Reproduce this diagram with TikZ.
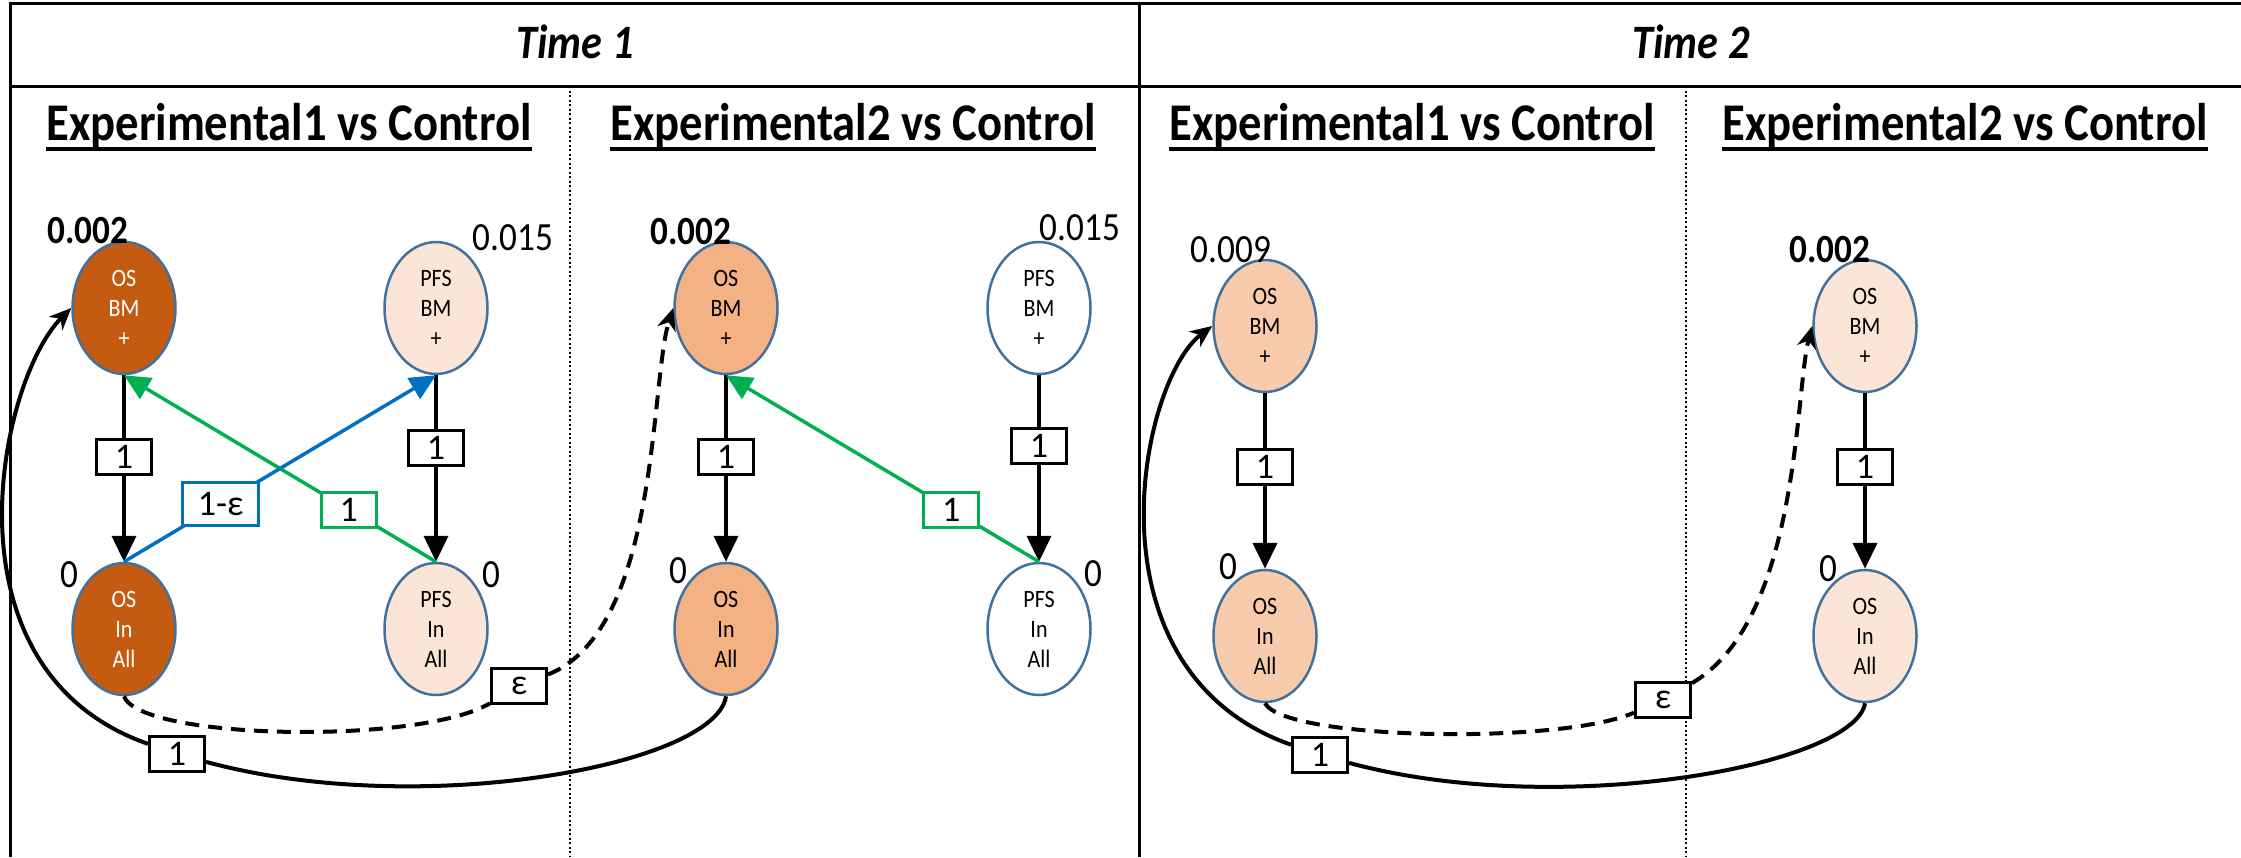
\documentclass[tikz,border=0pt]{standalone}
\usepackage{fontspec}
\setmainfont{Carlito}
\newfontfamily\narrowfont{Carlito}[FakeStretch=0.88]
\usetikzlibrary{shapes.geometric,arrows.meta}

\definecolor{rim}{HTML}{41719C}
\definecolor{osdark}{HTML}{C55A11}
\definecolor{osmid}{HTML}{F4B183}
\definecolor{oslight}{HTML}{F8CBAD}
\definecolor{ospale}{HTML}{FBE5D6}
\definecolor{blu}{HTML}{0070C0}
\definecolor{grn}{HTML}{00B050}

\tikzset{
  ell/.style={ellipse,draw=rim,line width=2.5pt,minimum width=103pt,minimum height=132pt,
    inner sep=0pt,align=center,font=\narrowfont\fontsize{25}{30}\selectfont},
  lab/.style={draw,line width=3pt,fill=white,minimum width=55pt,minimum height=35pt,
    inner sep=0pt,font=\fontsize{36}{42}\selectfont},
  num/.style={inner sep=0pt,font=\narrowfont\fontsize{40}{46}\selectfont},
  numb/.style={inner sep=0pt,font=\narrowfont\fontsize{40}{46}\selectfont\bfseries},
  hdr/.style={inner sep=0pt,anchor=base,font=\narrowfont\fontsize{53}{60}\selectfont\bfseries},
  blk/.style={line width=4pt,-{Triangle[length=26pt,width=24pt]}},
  colarr/.style={line width=3.5pt,draw=#1,-{Triangle[length=26pt,width=24pt]}},
  curv/.style={line width=4pt,-{Stealth[length=22pt,width=19pt,inset=7pt]}},
  sep/.style={line width=2pt,dash pattern=on 2pt off 2.5pt}
}

\begin{document}
\begin{tikzpicture}[x=1pt,y=-1pt]
    \useasboundingbox (0,0) rectangle (2241,857);
    % table
    \draw[line width=3pt] (10,857) -- (10,3) -- (2245,3);
    \draw[line width=3pt] (10,86) -- (2245,86);
    \draw[line width=3pt] (1139,3) -- (1139,857);
    \draw[sep] (570,86) -- (570,857);
    \draw[sep] (1686,86) -- (1686,857);
    \node[hdr,font=\narrowfont\fontsize{48}{56}\selectfont\bfseries] (time1) at (575,58) {\itshape Time 1};
    \node[hdr,font=\narrowfont\fontsize{48}{56}\selectfont\bfseries] (time2) at (1691,58) {\itshape Time 2};
    \foreach \x/\n/\k in {289/A/1,853/B/2,1412/C/1,1965/D/2} {
        \node[hdr] (ttl\n) at (\x,140) {Experimental\k\ vs Control};
        \draw[line width=3.5pt] ([yshift=-9pt]ttl\n.base west) -- ([yshift=-9pt]ttl\n.base east);
    }

    % time 1, experimental1
    \node[ell,fill=osdark,text=white] (osbmA) at (124,308) {OS\\BM\\+};
    \node[ell,fill=ospale] (pfsbmA) at (436,308) {PFS\\BM\\+};
    \node[ell,fill=osdark,text=white] (osinA) at (124,629) {OS\\In\\All};
    \node[ell,fill=ospale] (pfsinA) at (436,629) {PFS\\In\\All};
    \node[numb] at (88,231) {0.002};
    \node[num] at (513,238) {0.015};
    \node[num] at (69,575) {0};
    \node[num] at (491,575) {0};
    \draw[blk] (osbmA) -- node[lab,pos=0.44]{1} (osinA);
    \draw[blk] (pfsbmA) -- node[lab,pos=0.39]{1} (pfsinA);
    \draw[colarr=grn] (pfsinA.north) -- node[lab,draw=grn,pos=0.28]{1} (osbmA.south);
    \draw[colarr=blu] (osinA.north) -- node[lab,draw=blu,minimum width=76pt,minimum height=43pt,pos=0.31]{1-ε} (pfsbmA.south);

    % time 1, experimental2
    \node[ell,fill=osmid] (osbmB) at (726,308) {OS\\BM\\+};
    \node[ell,fill=white] (pfsbmB) at (1039,308) {PFS\\BM\\+};
    \node[ell,fill=osmid] (osinB) at (726,629) {OS\\In\\All};
    \node[ell,fill=white] (pfsinB) at (1039,629) {PFS\\In\\All};
    \node[numb] at (691,232) {0.002};
    \node[num] at (1080,228) {0.015};
    \node[num] at (678,571) {0};
    \node[num] at (1093,574) {0};
    \draw[blk] (osbmB) -- node[lab,pos=0.44]{1} (osinB);
    \draw[blk] (pfsbmB) -- node[lab,pos=0.38]{1} (pfsinB);
    \draw[colarr=grn] (pfsinB.north) -- node[lab,draw=grn,pos=0.28]{1} (osbmB.south);

    \node[lab] (epsA) at (519,686) {ε};
    \node[lab] (oneA) at (177,754) {1};
    \draw[curv,dash pattern=on 14pt off 9pt] (osinA.south) .. controls (140,740) and (420,745) .. (epsA)
        .. controls (660,630) and (650,380) .. (osbmB.west);
    \draw[curv] (osinB.south) .. controls (716,765) and (420,820) .. (oneA)
        .. controls (-63,670) and (-1,380) .. (osbmA.west);

    % time 2
    \node[ell,fill=oslight] (osbmC) at (1265,326) {OS\\BM\\+};
    \node[ell,fill=oslight] (osinC) at (1265,636) {OS\\In\\All};
    \node[ell,fill=ospale] (osbmD) at (1865,326) {OS\\BM\\+};
    \node[ell,fill=ospale] (osinD) at (1865,636) {OS\\In\\All};
    \node[num] at (1231,250) {0.009};
    \node[num] at (1228,567) {0};
    \node[numb] at (1830,250) {0.002};
    \node[num] at (1828,569) {0};
    \draw[blk] (osbmC) -- node[lab,pos=0.42]{1} (osinC);
    \draw[blk] (osbmD) -- node[lab,pos=0.42]{1} (osinD);

    \node[lab] (epsC) at (1663,700) {ε};
    \node[lab] (oneC) at (1320,755) {1};
    \draw[curv,dash pattern=on 14pt off 9pt] (osinC.south) .. controls (1285,740) and (1560,745) .. (epsC)
        .. controls (1800,620) and (1795,390) .. (osbmD.west);
    \draw[curv] (osinD.south) .. controls (1855,765) and (1560,820) .. (oneC)
        .. controls (1080,670) and (1140,380) .. (osbmC.west);
\end{tikzpicture}
\end{document}
